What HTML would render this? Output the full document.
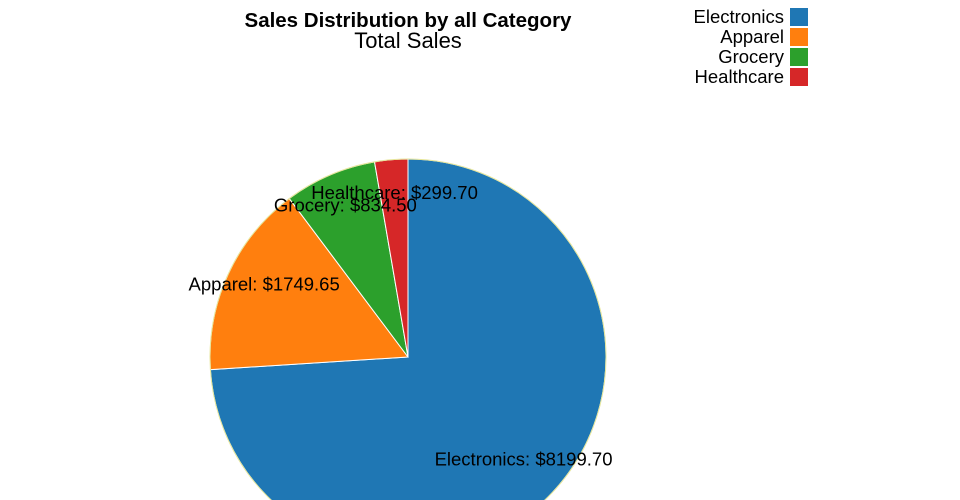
<!DOCTYPE html>
<html><head><meta charset="utf-8"><style>
html,body{margin:0;background:#fff;width:960px;height:500px;overflow:hidden;}
svg{display:block;font-family:"Liberation Sans","DejaVu Sans",sans-serif;}
</style></head><body>
<svg id="chart" width="960" height="500">
<text x="408" y="27" text-anchor="middle" font-size="20.5" font-weight="bold" fill="#000">Sales Distribution by all Category</text>
<text x="408" y="48" text-anchor="middle" font-size="22" fill="#000">Total Sales</text>
<g id="slices"></g>
<g id="labels"></g>
<g id="legend"></g>
</svg>
<script>
const categories = ["Electronics", "Apparel", "Grocery", "Healthcare"];
const values = [8199.70, 1749.65, 834.50, 299.70];
const labels = ["Electronics: $8199.70", "Apparel: $1749.65", "Grocery: $834.50", "Healthcare: $299.70"];
const colors = ["#1f77b4", "#ff7f0e", "#2ca02c", "#d62728"];

const NS = "http://www.w3.org/2000/svg";
const cx = 408, cy = 357, R = 198;
const total = values.reduce((a, b) => a + b, 0);
function pt(angle, r) { return [cx + r * Math.sin(angle), cy - r * Math.cos(angle)]; }
const gS = document.getElementById("slices"), gL = document.getElementById("labels"), gG = document.getElementById("legend");
let a0 = 0;
values.forEach((v, i) => {
  const da = v / total * 2 * Math.PI, a1 = a0 + da;
  const p0 = pt(a0, R), p1 = pt(a1, R);
  const p = document.createElementNS(NS, "path");
  p.setAttribute("d", `M${cx},${cy} L${p0[0]},${p0[1]} A${R},${R} 0 ${da > Math.PI ? 1 : 0} 1 ${p1[0]},${p1[1]} Z`);
  p.setAttribute("fill", colors[i]);
  p.setAttribute("stroke", "#fff");
  p.setAttribute("stroke-width", "1");
  
  
  gS.appendChild(p);
  a0 = a1;
});
const ring = document.createElementNS(NS, "circle");
ring.setAttribute("cx", cx); ring.setAttribute("cy", cy); ring.setAttribute("r", R);
ring.setAttribute("fill", "none"); ring.setAttribute("stroke", "#e6e69a"); ring.setAttribute("stroke-width", "1");


gS.appendChild(ring);
a0 = 0;
values.forEach((v, i) => {
  const da = v / total * 2 * Math.PI;
  const c = pt(a0 + da / 2, R * 0.8);
  a0 += da;
  const t = document.createElementNS(NS, "text");
  t.setAttribute("x", c[0]); t.setAttribute("y", c[1]);
  t.setAttribute("text-anchor", "middle"); t.setAttribute("font-size", "18.5"); t.setAttribute("fill", "#000");
  t.textContent = labels[i];
  
  
  gL.appendChild(t);
});
categories.forEach((c, i) => {
  const y = 8 + i * 20;
  const r = document.createElementNS(NS, "rect");
  r.setAttribute("x", 790); r.setAttribute("y", y); r.setAttribute("width", 18); r.setAttribute("height", 18);
  r.setAttribute("fill", colors[i]);
  
  
  gG.appendChild(r);
  const t = document.createElementNS(NS, "text");
  t.setAttribute("x", 784); t.setAttribute("y", y + 15);
  t.setAttribute("text-anchor", "end"); t.setAttribute("font-size", "18.5"); t.setAttribute("fill", "#000");
  t.textContent = c;
  
  
  gG.appendChild(t);
});
</script>
</body></html>
